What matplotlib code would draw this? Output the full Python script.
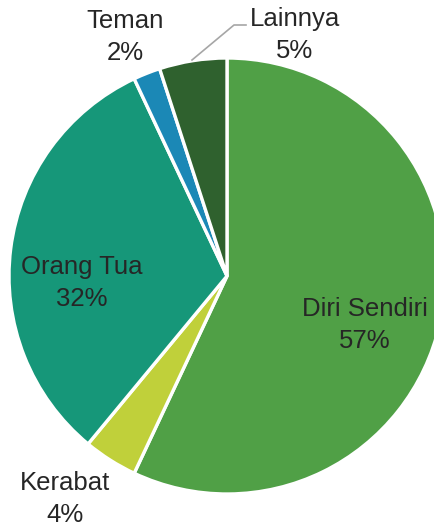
import matplotlib.pyplot as plt

# Slice data (clockwise from 12 o'clock)
LABELS = ['Diri Sendiri', 'Kerabat', 'Orang Tua', 'Teman', 'Lainnya']
VALUES = [57, 4, 32, 2, 5]
COLORS = ['#50A046', '#C0D03A', '#169779', '#1B88B6', '#2F612E']

# Figure geometry (pixels): pie centre and radius
W, H = 435, 528
CX, CY, R = 227, 276, 218

TEXT_COLOR = '#262626'
plt.rcParams['font.family'] = ['Liberation Sans', 'DejaVu Sans']


def px(x, y):
    """Pixel position in the image -> data coords of the pie axes."""
    return (x - CX) / R, (CY - y) / R


fig = plt.figure(figsize=(W / 100, H / 100), dpi=100)
ax = fig.add_axes([0, 0, 1, 1])

ax.pie(VALUES, colors=COLORS, startangle=90, counterclock=False,
       radius=1.0, wedgeprops=dict(edgecolor='white', linewidth=2.4))

ax.set_xlim(-CX / R, (W - CX) / R)
ax.set_ylim(-(H - CY) / R, CY / R)
ax.set_aspect('auto')
ax.axis('off')

# Label positions in pixels (centre of text block)
label_pos = {
    'Diri Sendiri': (365, 325),
    'Kerabat': (65, 499),
    'Orang Tua': (82, 283),
    'Teman': (125, 37),
    'Lainnya': (295, 35),
}
for lab, val in zip(LABELS, VALUES):
    x, y = px(*label_pos[lab])
    ax.text(x, y, f'{lab}\n{val}%', ha='center', va='center',
            fontsize=18.5, color=TEXT_COLOR, linespacing=1.38)

# Leader line for Lainnya
lx = [px(192, 60)[0], px(234, 25)[0], px(246, 25)[0]]
ly = [px(192, 60)[1], px(234, 25)[1], px(246, 25)[1]]
ax.plot(lx, ly, color='#A6A6A6', linewidth=1.2, clip_on=False)

fig.savefig('out.png', dpi=100)
